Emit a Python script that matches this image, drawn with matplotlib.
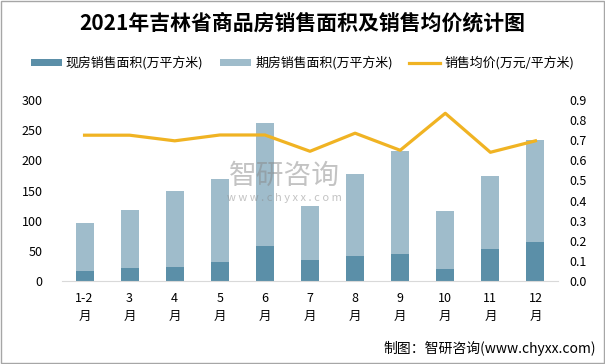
import matplotlib
matplotlib.use('Agg')
import matplotlib.pyplot as plt
from matplotlib.patches import Rectangle
import numpy as np

plt.rcParams['font.family'] = ['Noto Sans CJK SC', 'DejaVu Sans']

# 数据
months = ['1-2\n月', '3\n月', '4\n月', '5\n月', '6\n月', '7\n月', '8\n月', '9\n月', '10\n月', '11\n月', '12\n月']
total_area = [96, 118, 149, 169, 262, 124, 177, 215, 116, 174, 234]   # 现房+期房
spot_area = [17, 22, 23, 32, 58, 35, 42, 45, 20, 53, 65]              # 现房
avg_price = [0.725, 0.725, 0.697, 0.726, 0.726, 0.645, 0.735, 0.65, 0.834, 0.64, 0.697]
future_area = [t - s for t, s in zip(total_area, spot_area)]          # 期房

c_dark = '#5b8fa8'
c_light = '#9fbccb'
c_line = '#f0b323'

fig = plt.figure(figsize=(6.05, 3.64), dpi=100)
ax = fig.add_axes([62 / 605, 1 - 281 / 364, 496 / 605, 181 / 364])
x = np.arange(len(months))

ax.bar(x, spot_area, width=0.4, color=c_dark, label='现房销售面积(万平方米)', zorder=2)
ax.bar(x, future_area, width=0.4, bottom=spot_area, color=c_light, label='期房销售面积(万平方米)', zorder=2)
ax.set_ylim(0, 300)
ax.set_yticks(range(0, 301, 50))
ax.set_xlim(-0.5, len(months) - 0.5)
ax.set_xticks(x)
ax.set_xticklabels(months, fontsize=9, linespacing=1.5)
for s in ['top', 'right', 'left']:
    ax.spines[s].set_visible(False)
ax.spines['bottom'].set_color('#d9d9d9')
ax.tick_params(axis='both', length=0, labelsize=9, pad=8)
ax.tick_params(axis='y', pad=14)

ax2 = ax.twinx()
ax2.plot(x, avg_price, color=c_line, lw=2.3, label='销售均价(万元/平方米)', zorder=3)
ax2.set_ylim(0, 0.9)
ax2.set_yticks(np.arange(0, 0.91, 0.1))
ax2.set_yticklabels([f'{v:.1f}' for v in np.arange(0, 0.91, 0.1)])
for s in ['top', 'right', 'left', 'bottom']:
    ax2.spines[s].set_visible(False)
ax2.tick_params(axis='y', length=0, labelsize=9, pad=8)

# 标题和图例
fig.text(0.5, 1 - 23 / 364, '2021年吉林省商品房销售面积及销售均价统计图',
         ha='center', va='center', fontsize=15, fontweight='bold')
h1, l1 = ax.get_legend_handles_labels()
h2, l2 = ax2.get_legend_handles_labels()
fig.legend(h1 + h2, l1 + l2, loc='center', bbox_to_anchor=(0.5, 1 - 63 / 364), ncol=3,
           frameon=False, fontsize=9.3, handlelength=2.4, handleheight=0.5,
           columnspacing=1.3, handletextpad=0.3)

# 水印
fig.text(0.47, 1 - 176 / 364, '智研咨询', ha='center', va='center', fontsize=20,
         color='#888888', alpha=0.5)
fig.text(0.47, 1 - 198 / 364, 'w w w . c h y x x . c o m', ha='center', va='center',
         fontsize=8, color='#888888', alpha=0.5)

fig.text(0.985, 1 - 348 / 364, '制图：智研咨询(www.chyxx.com)', ha='right', va='center', fontsize=10)

fig.patches.append(Rectangle((0.001, 0.002), 0.997, 0.995, transform=fig.transFigure,
                             fill=False, edgecolor='#a6a6a6', lw=1))

fig.savefig('out.png', dpi=100)
